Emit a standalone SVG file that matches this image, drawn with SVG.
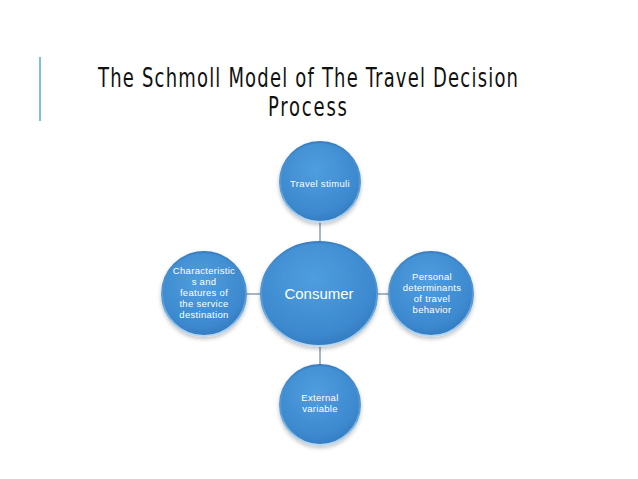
<svg xmlns="http://www.w3.org/2000/svg" width="638" height="479" viewBox="0 0 638 479">
<defs>
<radialGradient id="g" cx="0.45" cy="0.35" r="0.75">
<stop offset="0" stop-color="#4F9EDE"/>
<stop offset="0.7" stop-color="#3D89CF"/>
<stop offset="1" stop-color="#2E73B8"/>
</radialGradient>
<linearGradient id="rim" x1="0" y1="0" x2="0" y2="1">
<stop offset="0" stop-color="#3A7FC2"/>
<stop offset="0.6" stop-color="#5A9FD8"/>
<stop offset="1" stop-color="#B9D9F2"/>
</linearGradient>
<filter id="sh" x="-20%" y="-20%" width="140%" height="140%">
<feGaussianBlur in="SourceAlpha" stdDeviation="2"/>
<feOffset dx="0" dy="2"/>
<feComponentTransfer><feFuncA type="linear" slope="0.25"/></feComponentTransfer>
<feMerge><feMergeNode/><feMergeNode in="SourceGraphic"/></feMerge>
</filter>
</defs>
<style>
.title{font-family:"DejaVu Sans Condensed","DejaVu Sans",sans-serif;font-size:20px;fill:#111;}
.node{fill:url(#g);stroke:url(#rim);stroke-width:2;filter:url(#sh);}
.lbl{font-family:"Liberation Sans",Arial,sans-serif;font-size:9.5px;letter-spacing:0.3px;fill:#fff;text-anchor:middle;}
.big{font-family:"Liberation Sans",Arial,sans-serif;font-size:15px;fill:#fff;text-anchor:middle;}
.conn{stroke:#4A6E8F;stroke-width:1;fill:none;}
</style>
<rect width="638" height="479" fill="#fff"/>
<line x1="40" y1="57" x2="40" y2="121" stroke="#7DC1D8" stroke-width="2"/>
<g transform="translate(0,87) scale(1,1.3)">
<text class="title" x="98" y="0" textLength="420" lengthAdjust="spacing">The Schmoll Model of The Travel Decision</text>
</g>
<g transform="translate(0,116) scale(1,1.3)">
<text class="title" x="268" y="0" textLength="79" lengthAdjust="spacing">Process</text>
</g>
<g id="connectors">
<line class="conn" x1="320" y1="222" x2="320" y2="242"/>
<line class="conn" x1="320" y1="345" x2="320" y2="365"/>
<line class="conn" x1="245" y1="294" x2="261" y2="294"/>
<line class="conn" x1="377" y1="294" x2="390" y2="294"/>
</g>
<g id="consumer">
<ellipse class="node" cx="319" cy="294" rx="58" ry="52"/>
<text class="big" x="319" y="299">Consumer</text>
</g>
<g id="travel-stimuli">
<circle class="node" cx="320" cy="182" r="40"/>
<text class="lbl" x="320" y="187">Travel stimuli</text>
</g>
<g id="external-variable">
<circle class="node" cx="320" cy="405" r="40"/>
<text class="lbl" x="320" y="401">External</text>
<text class="lbl" x="320" y="412">variable</text>
</g>
<g id="characteristics">
<circle class="node" cx="204" cy="294" r="42"/>
<text class="lbl" x="204" y="274">Characteristic</text>
<text class="lbl" x="204" y="285">s and</text>
<text class="lbl" x="204" y="296">features of</text>
<text class="lbl" x="204" y="307">the service</text>
<text class="lbl" x="204" y="318">destination</text>
</g>
<g id="personal">
<circle class="node" cx="431" cy="294" r="42"/>
<text class="lbl" x="432" y="280">Personal</text>
<text class="lbl" x="432" y="291">determinants</text>
<text class="lbl" x="432" y="302">of travel</text>
<text class="lbl" x="432" y="313">behavior</text>
</g>
</svg>
